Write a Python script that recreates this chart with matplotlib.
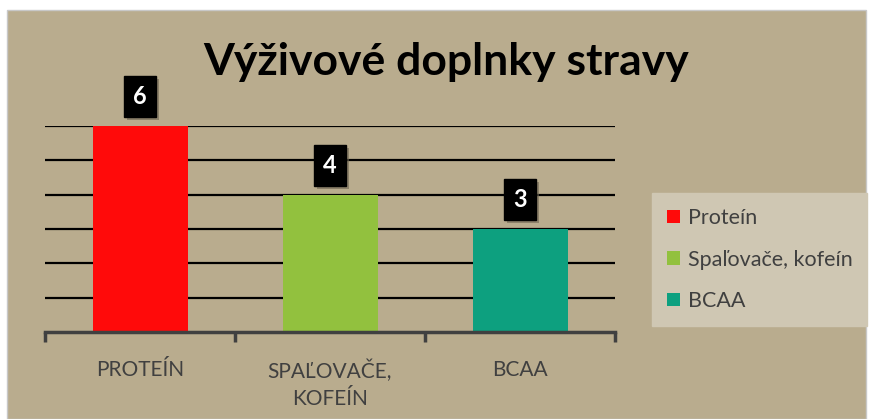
import matplotlib.pyplot as plt
import matplotlib.patches as mpatches
import matplotlib.patheffects as pe

# datos
categories = ["PROTEÍN", "SPAĽOVAČE,\nKOFEÍN", "BCAA"]
legend_names = ["Proteín", "Spaľovače, kofeín", "BCAA"]
values = [6, 4, 3]
colors = ["#FF0A0A", "#92C13E", "#0DA07F"]

BG = "#B9AC8E"
LEG_BG = "#CFC7B3"
TXT = "#404040"

plt.rcParams['font.family'] = ['Lato', 'DejaVu Sans']

fig = plt.figure(figsize=(8.69, 4.19), dpi=100, facecolor="white")
# fondo del grafico
fig.patches.append(mpatches.Rectangle((7/869, 0), 859/869, 409/419, transform=fig.transFigure,
                                      facecolor=BG, edgecolor="#C8C8C8", linewidth=1, zorder=-10))

ax = fig.add_axes([45/869, 87/419, 570/869, 206/419])
ax.set_facecolor("none")
ax.set_zorder(1)

x = range(len(values))
for yv in range(1, 7):
    ax.axhline(yv, color="black", linewidth=1.6, zorder=1)
bars = ax.bar(x, values, width=0.5, color=colors, zorder=2)

for xi, v in zip(x, values):
    t = ax.annotate(str(v), (xi, v), xytext=(0, 21), textcoords="offset points",
                    ha="center", va="center", color="white", fontsize=17, fontweight="bold",
                    bbox=dict(boxstyle="square,pad=0.38", facecolor="black", edgecolor="black"),
                    zorder=5)
    t.get_bbox_patch().set_path_effects([pe.SimplePatchShadow(offset=(2, -2), shadow_rgbFace="#6E6552", alpha=0.6),
                                         pe.Normal()])

ax.set_xlim(-0.5, 2.5)
ax.set_ylim(0, 6)
ax.set_yticks([])
for s in ["top", "right", "left"]:
    ax.spines[s].set_visible(False)
ax.spines["bottom"].set_color(TXT)
ax.spines["bottom"].set_linewidth(2.5)
ax.spines["bottom"].set_zorder(3)

ax.set_xticks(list(x))
ax.set_xticklabels(categories, fontsize=15, color=TXT, linespacing=1.4)
ax.tick_params(axis="x", which="major", length=0, pad=20)
ax.set_xticks([-0.5, 0.5, 1.5, 2.5], minor=True)
ax.tick_params(axis="x", which="minor", length=7, width=2.5, color=TXT, direction="out")

fig.text(446/869, 1 - 62/419, "Výživové doplnky stravy", ha="center", va="center",
         fontsize=32, fontweight="bold", color="black")

handles = [mpatches.Patch(facecolor=c, label=n) for c, n in zip(colors, legend_names)]
leg = fig.legend(handles=handles, loc="upper left", bbox_to_anchor=(652/869, 1 - 193/419),
                 frameon=True, fancybox=False, fontsize=15.5, labelspacing=1.0,
                 handlelength=0.6, handleheight=0.6, handletextpad=0.35,
                 borderpad=0.7, borderaxespad=0)
leg.get_frame().set_facecolor(LEG_BG)
leg.get_frame().set_edgecolor(LEG_BG)
leg.get_frame().set_alpha(1)
for txt in leg.get_texts():
    txt.set_color(TXT)

fig.savefig("out.png", dpi=100, facecolor="white")
